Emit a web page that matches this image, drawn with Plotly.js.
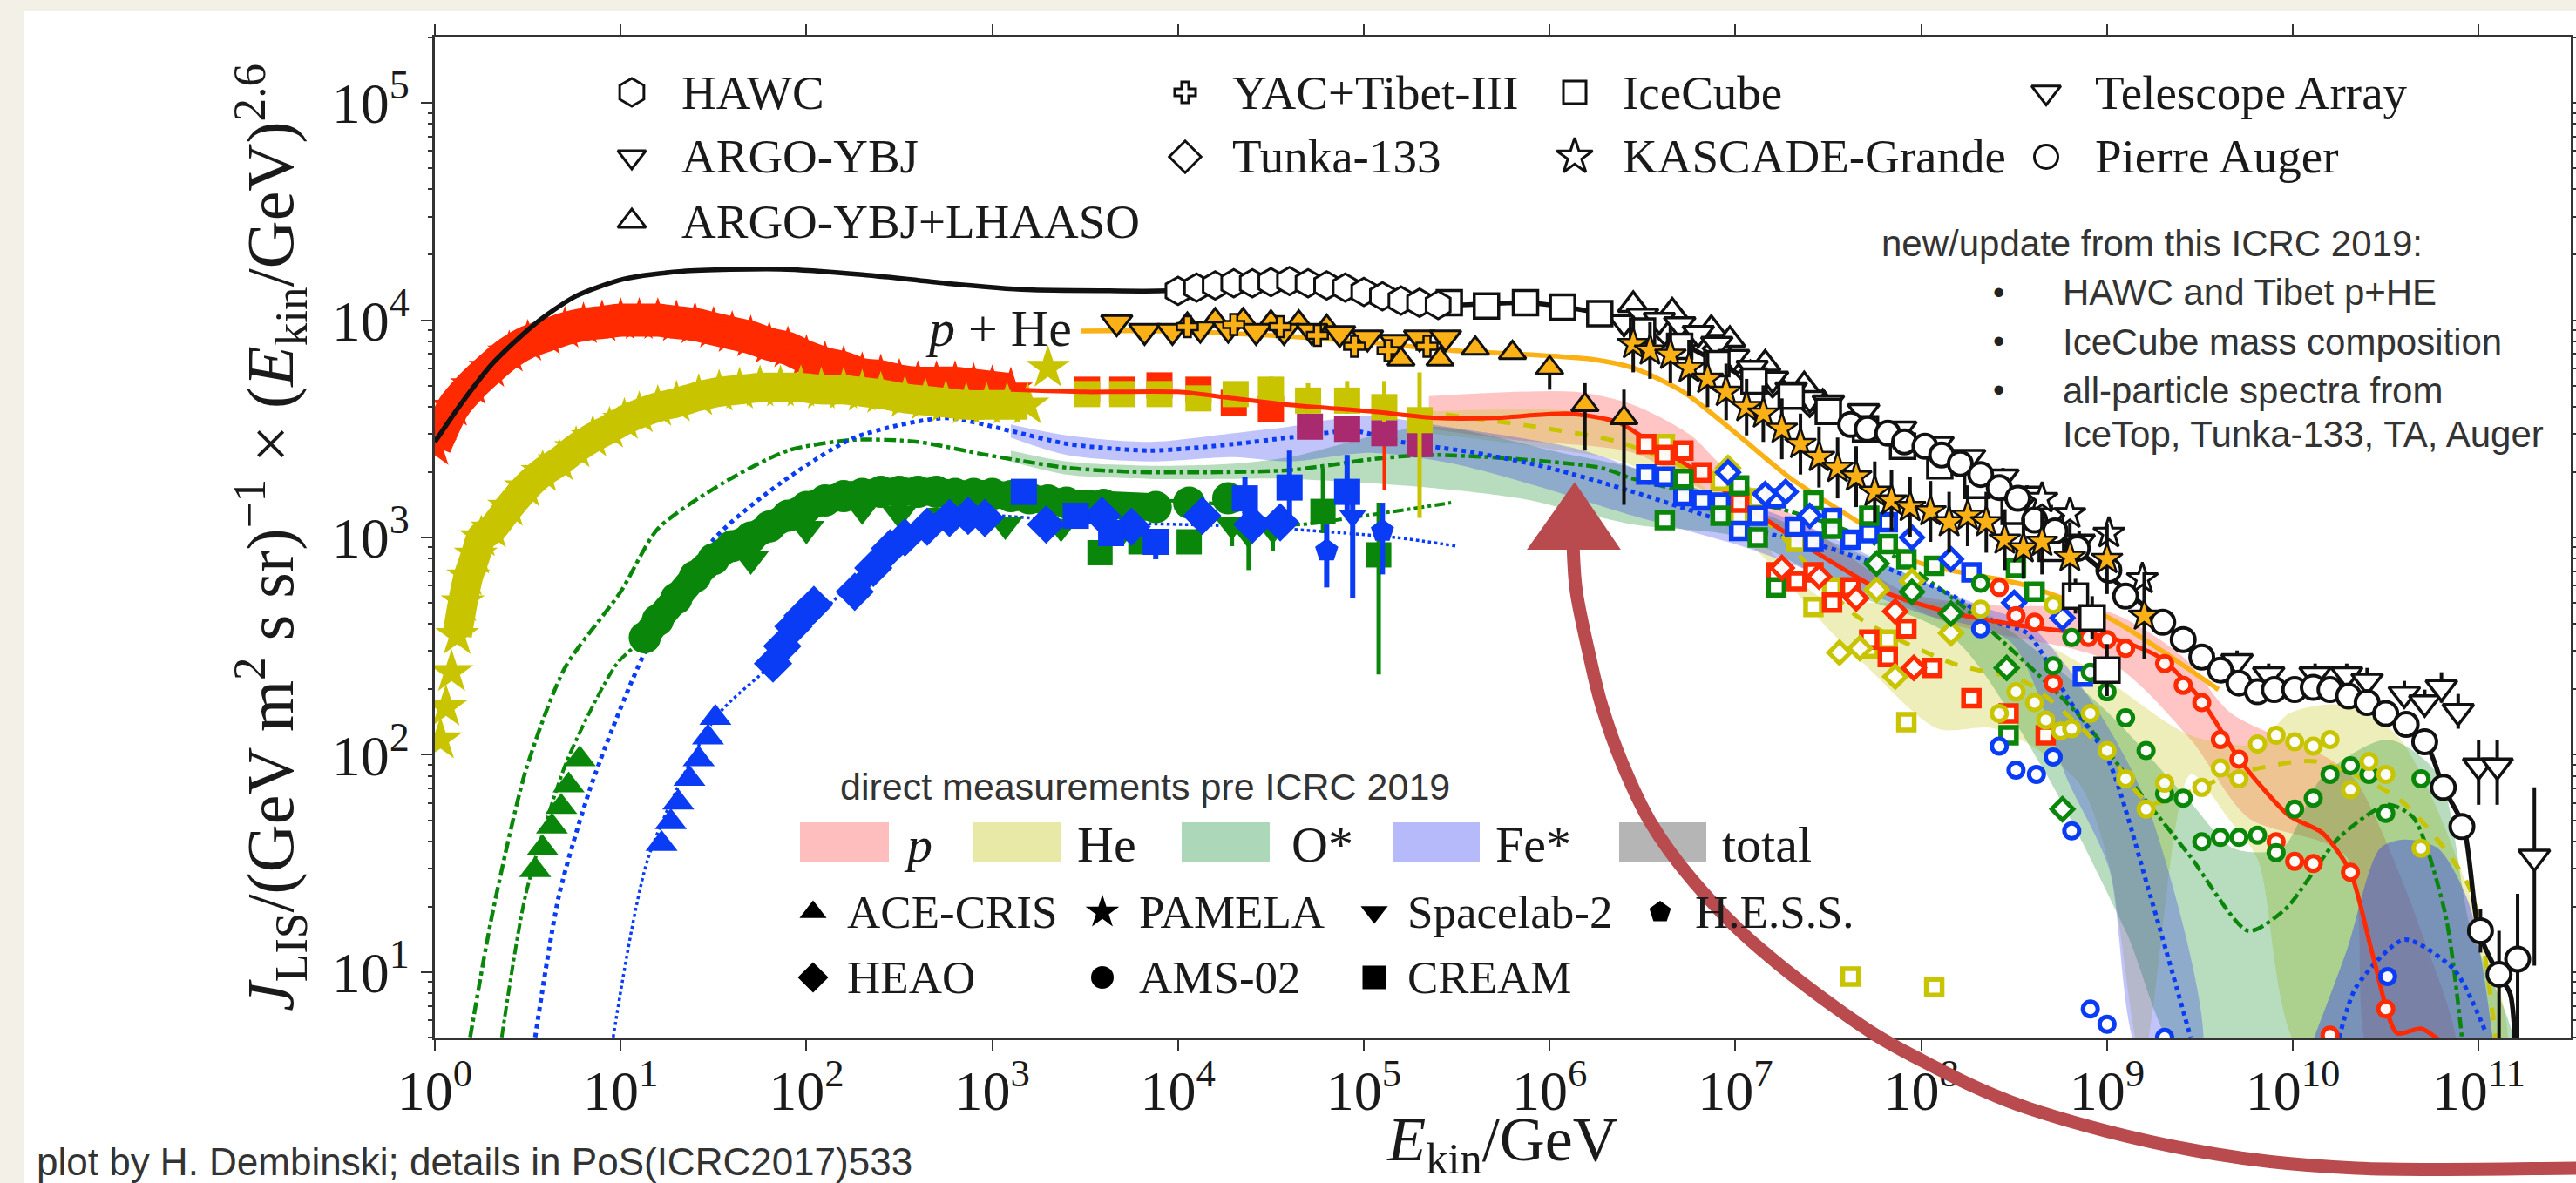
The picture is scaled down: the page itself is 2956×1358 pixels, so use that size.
<!DOCTYPE html>
<html><head><meta charset="utf-8">
<script src="https://cdn.plot.ly/plotly-3.0.1.min.js"></script>
<style>html,body{margin:0;padding:0;background:#f3f0e7;overflow:hidden}</style>
</head><body><div id="chart" style="width:2956px;height:1358px"></div>
<script>
// ---------- DATA (log10 E/GeV, log10 J) ----------
const xTickVals=[1,1e1,1e2,1e3,1e4,1e5,1e6,1e7,1e8,1e9,1e10,1e11];
const xTickText=['10<sup>0</sup>','10<sup>1</sup>','10<sup>2</sup>','10<sup>3</sup>','10<sup>4</sup>','10<sup>5</sup>','10<sup>6</sup>','10<sup>7</sup>','10<sup>8</sup>','10<sup>9</sup>','10<sup>10</sup>','10<sup>11</sup>'];
const yTickVals=[1e1,1e2,1e3,1e4,1e5];
const yTickText=['10<sup>1</sup>','10<sup>2</sup>','10<sup>3</sup>','10<sup>4</sup>','10<sup>5</sup>'];

// model curves
const totE=[0,.137,.31,.535,.757,1.02,1.33,1.86,2.3,2.75,3.19,3.63,3.94,4.6,5.04,5.48,5.88,6.28,6.67,7.07,7.47,7.87,8.31,8.7,9,9.3,9.6,9.81,10.29,10.71,10.81,10.92,11,11.1,11.17,11.2];
const totJ=[3.44,3.61,3.8,3.98,4.11,4.19,4.225,4.235,4.21,4.17,4.14,4.135,4.135,4.17,4.1,4.07,4.08,4.03,3.91,3.73,3.59,3.44,3.27,3.04,2.83,2.61,2.39,2.29,2.28,2.06,1.85,1.67,1.19,1,.9,.6];
const pHeE=[3.48,3.9,4.5,5.0,5.48,5.92,6.23,6.45,6.72,7.03,7.3,7.7,7.97,8.56,9.01,9.6];
const pHeJ=[3.95,3.95,3.93,3.9,3.86,3.84,3.82,3.78,3.67,3.46,3.27,3.05,2.89,2.78,2.63,2.3];
const pLineE=[3.1,3.5,4,4.3,4.6,5.04,5.39,5.7,6.1,6.37,6.54,6.8,7.1,7.4,7.8,8.13,8.57,9.01,9.28,9.5,9.72,9.98,10.16,10.31,10.43,10.56,10.69,10.8,10.9];
const pLineJ=[3.68,3.67,3.67,3.64,3.61,3.58,3.55,3.55,3.57,3.53,3.44,3.3,3.12,2.95,2.75,2.66,2.59,2.54,2.45,2.26,1.97,1.72,1.64,1.46,1.08,.72,.74,.68,.6];
const heLineE=[5.3,5.92,6.37,6.9,7.2,7.65,8.17,8.57,9.01,9.23,9.68,10.12,10.58,10.95,11.09];
const heLineJ=[3.58,3.51,3.44,3.25,3.05,2.64,2.42,2.33,2.0,1.78,1.91,1.97,1.79,1.39,.7];
const oLineE=[.19,.31,.49,.7,1,1.2,1.55,1.9,2.26,2.6,2.97,3.41,3.85,4.6,5.04,5.35,5.84,6.28,6.45,6.8,7.25,7.69,8.17,8.44,8.84,9.19,9.45,9.76,9.96,10.25,10.51,10.65,10.82,10.91];
const oLineJ=[.7,1.27,1.93,2.4,2.75,3.04,3.25,3.4,3.45,3.44,3.38,3.32,3.3,3.31,3.36,3.38,3.36,3.32,3.27,3.2,3.13,3.0,2.72,2.52,2.19,1.81,1.53,1.19,1.29,1.62,1.77,1.71,1.27,.7];
const o2LineE=[.36,.49,.71,.98,1.13,1.33,1.82,2.53,3.41,4.16,4.61,5,5.47];
const o2LineJ=[.7,1.36,1.97,2.42,2.54,2.75,3.06,3.21,3.17,3.16,3.06,3.1,3.16];
const feLineE=[.54,.67,.85,1.13,1.5,1.86,2.26,2.75,3.1,3.41,3.85,4.3,4.6,4.95,5.2,5.6,6,6.45,7.07,7.51,8.13,8.4,8.57,8.79,9.01,9.23,9.45];
const feLineJ=[.7,1.36,1.88,2.47,2.99,3.25,3.46,3.55,3.49,3.43,3.4,3.43,3.46,3.49,3.44,3.39,3.32,3.21,3.04,2.95,2.75,2.61,2.56,2.26,1.97,1.36,.7];
const fe2LineE=[10.25,10.34,10.6,10.87,11.04];
const fe2LineJ=[.7,.93,1.15,1.01,.72];
const fe3LineE=[.96,1.15,1.51,1.82,2.26,2.77,3.5,4.38,5.17,5.5];
const fe3LineJ=[.7,1.53,2.17,2.42,2.8,3.09,3.07,3.05,3.0,2.96];

// uncertainty bands: upper edge then lower edge, as x/y outlines
const pBandE=[5.35,6.14,6.45,6.76,6.94,7.4,7.91,8.35,9,9.41,9.67,10.2,10.34,10.69,10.87,10.43,10.29,9.76,9.45,9.01,8.13,7.7,7.11,6.8,6.45,5.8,5.35];
const pBandJ=[3.65,3.67,3.61,3.47,3.32,3.05,2.75,2.69,2.66,2.45,2.19,1.98,1.88,1.19,.6,.6,1.53,1.71,2.07,2.43,2.61,2.8,3.09,3.23,3.39,3.45,3.5];
const heBandE=[5.35,6.14,6.45,7,7.47,7.7,8.22,8.9,9.45,9.81,9.98,10.25,10.56,10.95,11.13,10.07,9.81,9.65,9.45,9.19,9.01,8.84,8.4,8.09,7.69,7.51,7.1,6.45,5.9,5.35];
const heBandJ=[3.58,3.58,3.5,3.1,2.72,2.7,2.69,2.4,2.09,2.05,2.19,2.23,2.09,1.36,.6,.6,1.52,1.71,1.91,.6,1.5,1.88,2.12,2.12,2.42,2.57,2.95,3.33,3.42,3.48];
const oBandE=[3.1,3.4,3.85,4.3,4.6,5.35,6.06,6.45,7.03,7.6,8.13,8.48,9.01,9.45,9.68,9.94,10.16,10.51,10.78,10.95,11.18,10.03,9.41,9.1,8.66,8.17,7.6,7.03,6.45,5.84,5.35,4.6,4.3,3.85,3.4,3.1];
const oBandJ=[3.4,3.35,3.33,3.34,3.37,3.51,3.39,3.32,3.15,2.95,2.75,2.57,2.19,1.78,1.57,1.57,1.9,2.07,1.91,1.22,.6,.6,.6,1.19,1.93,2.54,2.75,3.0,3.06,3.18,3.23,3.27,3.27,3.27,3.29,3.35];
const feBandE=[3.1,3.4,3.85,4.3,4.6,5,5.44,6.14,6.59,7.11,7.42,8,8.4,8.57,8.93,9.23,9.5,9.19,9.01,8.79,8.48,8,7.07,6.45,5.92,5.48,5.04,4.6,4.3,3.85,3.4,3.1];
const feBandJ=[3.52,3.47,3.44,3.48,3.51,3.56,3.51,3.41,3.28,3.14,3.04,2.8,2.66,2.61,2.23,1.74,.6,.6,1.48,1.88,2.52,2.65,2.95,3.1,3.24,3.34,3.39,3.35,3.37,3.35,3.38,3.46];
const fe2BandE=[10.07,10.29,10.47,10.6,10.78,10.95,11.09];
const fe2BandJ=[.6,1.1,1.57,1.61,1.57,1.31,.6];

// direct measurements
const pStarE=[0,.1,.2,.3,.4,.5,.6,.7,.8,.9,1,1.1,1.2,1.3,1.4,1.5,1.6,1.7,1.8,1.9,2,2.1,2.2,2.3,2.4,2.5,2.6,2.7,2.8,2.9,3,3.1];
const pStarJ=[3.42,3.6,3.7,3.78,3.85,3.9,3.93,3.96,3.98,3.99,4,4,4,3.99,3.98,3.96,3.94,3.92,3.89,3.87,3.83,3.8,3.78,3.75,3.74,3.72,3.71,3.71,3.71,3.7,3.69,3.68];
const pSqE=[3.51,3.7,3.9,4.11,4.3,4.5];
const pSqJ=[3.68,3.68,3.7,3.68,3.62,3.59];
const pSq2E=[4.71,4.91,5.11,5.3];
const pSq2J=[3.51,3.5,3.48,3.43];
const pSq2Hi=[.02,.02,.02,.02];
const pSq2Lo=[.03,.03,.26,.05];
const heStarE=[.03,.06,.09,.12,.15,.18,.22,.25,.31,.4,.49,.58,.67,.76,.85,.94,1.02,1.1,1.2,1.3,1.42,1.53,1.64,1.75,1.86,1.97,2.08,2.2,2.3,2.4,2.53,2.64,2.75,2.86,2.97,3.08,3.19];
const heStarJ=[2.07,2.22,2.38,2.55,2.7,2.82,2.92,3.0,3.04,3.14,3.23,3.3,3.35,3.41,3.46,3.5,3.54,3.57,3.6,3.62,3.65,3.67,3.68,3.69,3.69,3.69,3.68,3.68,3.67,3.66,3.64,3.63,3.62,3.61,3.61,3.61,3.61];
const heBodyE=[.12,.15,.18,.22,.25,.31,.4,.49,.58,.67,.76,.85,.94,1.02,1.1,1.2,1.3,1.42,1.53,1.64,1.75,1.86,1.97,2.08,2.2,2.3,2.4,2.53,2.64,2.75,2.86,2.97,3.08,3.19];
const heBodyJ=[2.55,2.7,2.82,2.92,3.0,3.04,3.14,3.23,3.3,3.35,3.41,3.46,3.5,3.54,3.57,3.6,3.62,3.65,3.67,3.68,3.69,3.69,3.69,3.68,3.68,3.67,3.66,3.64,3.63,3.62,3.61,3.61,3.61,3.61];
const heOutE=[3.3]; const heOutJ=[3.78];
const heSqE=[3.51,3.7,3.9,4.11,4.31,4.5,4.7,4.91,5.11,5.3];
const heSqJ=[3.66,3.66,3.66,3.64,3.66,3.68,3.63,3.63,3.6,3.54];
const heSqHi=[.03,.03,.03,.03,.03,.06,.08,.09,.12,.22];
const heSqLo=[.03,.03,.03,.03,.03,.04,.06,.06,.07,.45];
const oCircE=[1.13,1.2,1.3,1.4,1.5,1.6,1.7,1.8,1.9,2,2.1,2.2,2.3,2.4,2.5,2.6,2.7,2.8,2.9,3,3.1,3.2,3.3,3.4,3.6,3.88,4.06,4.27];
const oCircJ=[2.54,2.62,2.72,2.82,2.9,2.96,3,3.05,3.1,3.14,3.17,3.19,3.2,3.21,3.21,3.21,3.21,3.2,3.2,3.2,3.19,3.18,3.17,3.16,3.15,3.14,3.16,3.18];
const oBodyE=[1.13,1.2,1.3,1.4,1.5,1.6,1.7,1.8,1.9,2,2.1,2.2,2.3,2.4,2.5,2.6,2.7,2.8,2.9,3,3.1,3.2,3.3,3.4,3.6,3.85];
const oBodyJ=[2.54,2.62,2.72,2.82,2.9,2.96,3,3.05,3.1,3.14,3.17,3.19,3.2,3.21,3.21,3.21,3.21,3.2,3.2,3.2,3.19,3.18,3.17,3.16,3.15,3.14];
const oTriDownE=[1.7,2.0,2.3,2.5,2.75,3.07,3.37,3.7,4.29,4.38,4.51];
const oTriDownJ=[2.9,3.04,3.13,3.11,3.1,3.06,3.05,3.03,3.06,3.02,3.04];
const oTriHi=[.02,.02,.02,.02,.02,.02,.02,.02,.02,.02,.02];
const oTriLo=[.02,.02,.02,.02,.02,.03,.05,.05,.1,.17,.1];
const oSqE=[3.58,3.8,4.06,4.78,5.08];
const oSqJ=[2.93,2.98,2.98,3.12,2.92];
const oSqHi=[.04,.04,.04,.2,.24];
const oSqLo=[.04,.04,.04,.1,.55];
const oAceE=[.54,.58,.63,.68,.72,.78];
const oAceJ=[1.47,1.57,1.67,1.76,1.86,1.98];
const feAceE=[1.22,1.27,1.31,1.37,1.42,1.47,1.51];
const feAceJ=[1.59,1.69,1.78,1.89,1.98,2.08,2.17];
const feDiaE=[1.82,1.87,1.93,1.98,2.04,null,2.26,2.36,2.45,2.53,2.65,2.77,2.87,2.96,3.29,3.59,3.75,4.13,4.4,4.55];
const feDiaJ=[2.42,2.5,2.59,2.64,2.69,null,2.75,2.86,2.95,3.0,3.05,3.09,3.1,3.09,3.06,3.1,3.05,3.1,3.06,3.07];
const feBodyE=[1.82,1.87,1.93,1.98,2.04,null,2.26,2.36,2.45,2.53,2.65,2.77,2.87,2.96];
const feBodyJ=[2.42,2.5,2.59,2.64,2.69,null,2.75,2.86,2.95,3.0,3.05,3.09,3.1,3.09];
const feSqE=[3.17,3.45,3.64,3.88,4.36,4.6,4.91];
const feSqJ=[3.21,3.1,3.02,2.98,3.18,3.23,3.21];
const feSqHi=[.03,.03,.05,.05,.1,.17,.17];
const feSqLo=[.03,.03,.05,.08,.08,.14,.1];
const feTriE=[4.94]; const feTriJ=[3.1]; const feTriHi=[.1]; const feTriLo=[.38];
const fePentE=[4.8,5.1];
const fePentJ=[2.94,3.03];
const fePentHi=[.12,.13];
const fePentLo=[.17,.2];

// air-shower experiments, composition groups
const redSqE=[6.52,6.62,6.72,6.82,7.02,7.22,7.33,7.42,7.52,7.62,7.72,7.82,7.92,8.06,8.27,8.47,8.67];
const redSqJ=[3.43,3.38,3.4,3.3,3.16,2.84,2.8,2.84,2.7,2.77,2.53,2.45,2.58,2.4,2.26,2.19,2.09];
const yelSqE=[6.62,6.92,7.02,7.12,7.33,7.42,7.52,7.62,7.72,7.82,7.92,8.07];
const yelSqJ=[3.43,3.26,3.1,3.18,2.98,2.68,2.77,.98,2.49,2.53,2.15,.93];
const bluSqE=[6.52,6.62,6.72,6.82,6.92,7.02,7.12,7.22,7.32,7.42,7.52,7.62,7.72,7.82,8.27,8.87];
const bluSqJ=[3.29,3.28,3.19,3.17,3.16,3.03,3.1,3.18,3.05,2.98,3.09,2.99,3.02,3.07,2.84,2.36];
const grnSqE=[6.62,6.72,6.92,7.02,7.12,7.22,7.42,7.52,7.72,7.82,7.92,8.07,8.47,8.51,8.61];
const grnSqJ=[3.08,3.27,3.1,3.24,3.0,2.77,3.17,3.04,3.1,2.97,2.9,2.87,2.09,2.86,2.75];
const redDiaE=[7.25,7.45,7.65,7.86,7.96];
const redDiaJ=[2.86,2.82,2.72,2.66,2.4];
const yelDiaE=[6.96,7.56,7.67,7.76,7.86,7.95,8.16];
const yelDiaJ=[3.32,2.47,2.49,2.76,2.36,2.8,2.56];
const grnDiaE=[7.76,7.95,8.16,8.46,8.76];
const grnDiaJ=[2.88,2.75,2.65,2.4,1.75];
const bluDiaE=[6.96,7.16,7.27,7.4,7.95,8.16,8.5,8.76];
const bluDiaJ=[3.3,3.2,3.21,3.1,3.0,2.9,2.7,2.63];
const bluCircE=[8.32,8.42,8.51,8.62,8.71,8.81,8.91,9,9.31,10.51];
const bluCircJ=[2.58,2.04,1.93,1.91,1.99,1.65,.83,.76,.7,.98];
const redCircE=[8.42,8.51,8.61,8.71,8.9,9,9.1,9.31,9.41,9.51,9.61,9.71,9.91,10.01,10.11,10.2,10.31,10.5];
const redCircJ=[2.77,2.64,2.61,2.33,2.54,2.53,2.49,2.42,2.32,2.24,2.07,1.98,1.6,1.51,1.5,.71,1.46,.83];
const grnCircE=[8.32,8.71,8.81,8.91,9,9.1,9.21,9.31,9.41,9.51,9.61,9.71,9.81,9.91,10.01,10.11,10.2,10.31,10.41,10.5,10.69];
const grnCircJ=[2.79,2.41,2.54,2.38,2.29,2.17,2.02,1.82,1.8,1.6,1.62,1.62,1.63,1.55,1.75,1.8,1.91,1.95,1.91,1.73,1.89];
const yelCircE=[8.32,8.42,8.51,8.61,8.67,8.71,8.75,8.81,8.91,9,9.1,9.21,9.31,9.51,9.61,9.71,9.81,9.91,10.01,10.11,10.2,10.31,10.41,10.5,10.69];
const yelCircJ=[2.67,2.19,2.29,2.24,2.16,2.69,2.11,2.12,2.19,2.02,1.89,1.75,1.87,1.85,1.94,1.89,2.05,2.09,2.06,2.04,2.07,1.84,1.97,1.91,1.57];

// p+He measurements
const argoE=[3.67,3.82,3.97,4.12,4.27,4.42,4.57,4.72,4.87,5.02,5.17,5.3,5.44];
const argoJ=[3.99,3.95,3.95,3.96,3.96,3.95,3.95,3.95,3.94,3.92,3.9,3.92,3.92];
const argo2E=[4.05,4.2,4.35,4.5,4.65,4.8];
const argo2J=[3.98,4.0,4.0,3.99,3.99,3.97];
const yacE=[4.05,4.3,4.55,4.75,4.95,5.13,5.34];
const yacJ=[3.97,3.98,3.97,3.93,3.88,3.86,3.88];
const lhaasoE=[5.2,5.41,5.6,5.8,6,6.19,6.4];
const lhaasoJ=[3.82,3.82,3.87,3.85,3.78,3.61,3.55];
const lhaasoHi=[.02,.02,.02,.02,.02,.1,.13];
const lhaasoLo=[.02,.02,.03,.03,.1,.21,.4];

// all-particle
const hawcE=[4,4.1,4.2,4.3,4.4,4.5,4.6,4.7,4.8,4.9,5,5.1,5.2,5.3,5.4];
const hawcJ=[4.135,4.15,4.16,4.17,4.17,4.175,4.18,4.17,4.16,4.15,4.13,4.11,4.09,4.08,4.07];
const iceE=[5.46,5.66,5.87,6.07,6.27,6.5,6.7,6.9,7.1,7.3,7.5,7.7,7.9,8.1,8.3,8.5,8.7,8.83,8.92,9];
const iceJ=[4.08,4.065,4.08,4.06,4.03,3.95,3.88,3.8,3.72,3.65,3.58,3.5,3.42,3.33,3.24,3.12,2.95,2.73,2.63,2.39];
const iceErr=[.03,.03,.02,.02,.02,.02,.02,.02,.02,.02,.02,.03,.03,.03,.04,.04,.05,.08,.1,.12];
const kgE=[6.45,6.54,6.65,6.75,6.85,6.95,7.06,7.15,7.25,7.35,7.45,7.55,7.65,7.75,7.84,7.94,8.05,8.15,8.25,8.35,8.45,8.55,8.65,8.8,9,9.2];
const kgJ=[3.89,3.86,3.84,3.78,3.73,3.67,3.6,3.57,3.5,3.43,3.37,3.32,3.28,3.21,3.17,3.14,3.12,3.07,3.1,3.07,2.99,2.95,2.98,2.91,2.9,2.64];
const kgErr=[.13,.13,.13,.13,.13,.13,.13,.13,.14,.14,.14,.14,.14,.14,.14,.14,.14,.14,.14,.14,.14,.14,.15,.16,.16,.2];
const kgWhiteE=[8.65,8.8,9.01,9.19];
const kgWhiteJ=[3.18,3.11,3.02,2.81];
const tunkaE=[6.62,6.75,6.9,7.08,7.2,7.4];
const tunkaJ=[3.95,3.92,3.87,3.75,3.71,3.62];
const upE=[6.45,6.66,6.87,6.97,7.16,7.37,7.47];
const upJ=[4.07,4.04,3.96,3.91,3.8,3.7,3.62];
const taE=[6.4,6.5,6.59,6.7,6.8,6.9,6.99,7.09,7.2,7.3,7.4,7.5,7.69,7.89,8.09,8.26,8.44,8.57,8.7,8.85,9.7,9.87,10.12,10.29,10.4,10.6,10.71,10.8,10.89,11,11.1,11.3];
const taJ=[3.99,4.02,4.0,3.98,3.94,3.89,3.83,3.78,3.73,3.68,3.64,3.62,3.58,3.5,3.43,3.37,3.28,3.2,3.1,2.98,2.43,2.37,2.37,2.37,2.34,2.28,2.24,2.31,2.2,1.95,1.95,1.53];
const taHi=[.03,.03,.03,.03,.03,.03,.03,.03,.03,.03,.03,.03,.03,.03,.03,.03,.04,.04,.05,.05,.05,.05,.05,.05,.06,.06,.06,.07,.08,.12,.12,.32];
const taLo=[.03,.03,.03,.03,.03,.03,.03,.03,.03,.03,.03,.03,.03,.03,.03,.03,.04,.04,.05,.05,.05,.05,.05,.05,.06,.06,.06,.07,.08,.18,.18,.5];
const augerE=[7.62,7.71,7.82,7.91,8.02,8.11,8.21,8.32,8.42,8.52,8.61,8.72,8.84,9.01,9.1,9.3,9.41,9.51,9.61,9.71,9.81,9.9,10.01,10.11,10.2,10.3,10.4,10.5,10.61,10.71,10.81,10.91,11.01,11.11,11.21];
const augerJ=[3.52,3.5,3.48,3.44,3.42,3.38,3.34,3.29,3.23,3.18,3.08,3.03,2.95,2.85,2.73,2.61,2.53,2.45,2.39,2.33,2.29,2.3,2.3,2.31,2.3,2.27,2.24,2.19,2.14,2.06,1.85,1.67,1.19,.99,1.06];
const augerHi=[.04,.04,.04,.04,.04,.04,.04,.04,.04,.04,.04,.04,.04,.04,.04,.03,.03,.03,.03,.03,.03,.03,.03,.03,.03,.03,.03,.03,.03,.03,.03,.04,.1,.2,.3];
const augerLo=[.04,.04,.04,.04,.04,.04,.04,.04,.04,.04,.04,.04,.04,.04,.04,.03,.03,.03,.03,.03,.03,.03,.03,.03,.03,.03,.03,.03,.03,.03,.03,.04,.1,.3,.5];

// legend texts
const legendTop=[['HAWC',780,106],['ARGO-YBJ',780,180],['ARGO-YBJ+LHAASO',780,254],['YAC+Tibet-III',1412,106],['Tunka-133',1412,180],['IceCube',1860,106],['KASCADE-Grande',1860,180],['Telescope Array',2402,106],['Pierre Auger',2402,180]];
const legendDirect=[['ACE-CRIS',970,1047],['PAMELA',1305,1047],['Spacelab-2',1613,1047],['H.E.S.S.',1943,1047],['HEAO',970,1122],['AMS-02',1305,1122],['CREAM',1613,1122]];
const legendBands=[['<i>p</i>',1035,969],['He',1234,969],['O*',1480,969],['Fe*',1714,969],['total',1974,969]];
const newNotes=[['HAWC and Tibet p+HE',2365,336],['IceCube mass composition',2365,392],['all-particle spectra from',2365,448],['IceTop, Tunka-133, TA, Auger',2365,498]];
const bulletRows=[336,392,448];

// ---------- layout geometry: plot box in page pixels ----------
const L=499,R=2950,T=43,B=1191;
const px=X=>(X-L)/(R-L), py=Y=>(B-Y)/(B-T);
const pow10=a=>a.map(v=>v===null?null:Math.pow(10,v));
const RED='#ff2a00',YEL='#c8c400',GRN='#0a870a',BLU='#0a3cf5',ORG='#fbb116',BLK='#111';
const traces=[];
function band(E,J,color){traces.push({x:pow10(E),y:pow10(J),mode:'none',fill:'toself',fillcolor:color,line:{shape:'spline',smoothing:.8},hoverinfo:'skip',showlegend:false});}
function line(E,J,color,dash,w){traces.push({x:pow10(E),y:pow10(J),mode:'lines',line:{color,dash,width:w,shape:'spline',smoothing:.7},showlegend:false,hoverinfo:'skip'});}
function pts(E,J,symbol,size,color,lc,lw,hi,lo,ec,et){
  const t={x:pow10(E),y:pow10(J),mode:'markers',marker:{symbol,size,color,line:{color:lc||color,width:lw||0}},showlegend:false,hoverinfo:'skip'};
  if(hi){const h=hi,l=lo||hi;
    t.error_y={type:'data',symmetric:false,color:ec||lc||color,thickness:et||4,width:0,
      array:J.map((v,i)=>Math.pow(10,v+h[i])-Math.pow(10,v)),
      arrayminus:J.map((v,i)=>Math.pow(10,v)-Math.pow(10,v-l[i]))};}
  traces.push(t);
}
// bands
band(pBandE,pBandJ,'rgba(255,40,40,.27)');
band(heBandE,heBandJ,'rgba(200,200,30,.30)');
band(oBandE,oBandJ,'rgba(20,140,40,.30)');
band(feBandE,feBandJ,'rgba(50,60,240,.30)');
band(fe2BandE,fe2BandJ,'rgba(50,60,240,.42)');
// curves
line(oLineE,oLineJ,GRN,'dashdot',4.5);
line(o2LineE,o2LineJ,GRN,'dashdot',4);
line(feLineE,feLineJ,BLU,'dot',5);
line(fe2LineE,fe2LineJ,BLU,'dot',5);
line(fe3LineE,fe3LineJ,BLU,'dot',3.5);
line(heLineE,heLineJ,YEL,'dash',5);
line(pHeE,pHeJ,ORG,'solid',5.5);
// direct measurements
line(pStarE,pStarJ,RED,'solid',38);
pts(pStarE,pStarJ,'star',38,RED);
pts(pSqE,pSqJ,'square',30,RED);
pts(pSq2E,pSq2J,'square',30,'#a92a6e','#a92a6e',0,pSq2Hi,pSq2Lo,RED);
line(oBodyE,oBodyJ,GRN,'solid',32);
pts(oCircE,oCircJ,'circle',37,GRN);
pts(oTriDownE,oTriDownJ,'triangle-down',36,GRN,GRN,0,oTriHi,oTriLo,GRN,5);
pts(oSqE,oSqJ,'square',29,GRN,GRN,0,oSqHi,oSqLo,GRN,5);
pts(oAceE,oAceJ,'triangle-up',32,GRN);
line(heBodyE,heBodyJ,YEL,'solid',34);
pts(heStarE,heStarJ,'star',38,YEL);
pts(heOutE,heOutJ,'star',38,YEL);
pts(heSqE,heSqJ,'square',30,YEL,YEL,0,heSqHi,heSqLo,YEL,5);
line(pLineE,pLineJ,RED,'solid',5);
pts(feAceE,feAceJ,'triangle-up',32,BLU);
line(feBodyE,feBodyJ,BLU,'solid',22);
pts(feDiaE,feDiaJ,'diamond',34,BLU);
pts(feSqE,feSqJ,'square',30,BLU,BLU,0,feSqHi,feSqLo,BLU,6);
pts(feTriE,feTriJ,'triangle-down',28,BLU,BLU,0,feTriHi,feTriLo,BLU,6);
pts(fePentE,fePentJ,'pentagon',28,BLU,BLU,0,fePentHi,fePentLo,BLU,6);
// composition groups
const IN='rgba(255,255,255,.95)';
pts(yelSqE,yelSqJ,'square',18,IN,YEL,5.5);
pts(redSqE,redSqJ,'square',18,IN,RED,5.5);
pts(bluSqE,bluSqJ,'square',18,IN,BLU,5.5);
pts(grnSqE,grnSqJ,'square',18,IN,GRN,5.5);
pts(yelDiaE,yelDiaJ,'diamond',19,IN,YEL,5);
pts(redDiaE,redDiaJ,'diamond',19,IN,RED,5);
pts(grnDiaE,grnDiaJ,'diamond',19,IN,GRN,5);
pts(bluDiaE,bluDiaJ,'diamond',19,IN,BLU,5);
pts(bluCircE,bluCircJ,'circle',17,IN,BLU,5);
pts(redCircE,redCircJ,'circle',17,IN,RED,5);
pts(grnCircE,grnCircJ,'circle',17,IN,GRN,5);
pts(yelCircE,yelCircJ,'circle',17,IN,YEL,5);
// all-particle & p+He
line(totE,totJ,BLK,'solid',5.5);
pts(tunkaE,tunkaJ,'diamond',24,'#fff',BLK,3.5);
pts(upE,upJ,'triangle-up',30,'#fff',BLK,3.5);
pts(taE,taJ,'triangle-down',31,'#fff',BLK,3.5,taHi,taLo);
pts(kgWhiteE,kgWhiteJ,'star',27,'#fff',BLK,3);
pts(iceE,iceJ,'square',28,'#fff',BLK,3.5,iceErr,iceErr);
pts(hawcE,hawcJ,'hexagon',32,'#fff',BLK,3);
pts(augerE,augerJ,'circle',27,'#fff',BLK,4,augerHi,augerLo);
pts(argo2E,argo2J,'triangle-up',27,ORG,BLK,3);
pts(argoE,argoJ,'triangle-down',31,ORG,BLK,3);
pts(yacE,yacJ,'cross',20,ORG,BLK,2.5);
pts(lhaasoE,lhaasoJ,'triangle-up',27,ORG,BLK,3,lhaasoHi,lhaasoLo);
pts(kgE,kgJ,'star',27,ORG,BLK,2.5,kgErr,kgErr);

// legend keys on an overlay axis measured in page pixels
function key(X,Y,symbol,size,filled){traces.push({x:[X],y:[Y],xaxis:'x2',yaxis:'y2',mode:'markers',hoverinfo:'skip',showlegend:false,
  marker:{symbol,size,color:filled?'#000':'rgba(255,255,255,0)',line:{color:'#111',width:filled?0:3}}});}
key(725,106,'hexagon',32);key(725,180,'triangle-down',28);key(725,254,'triangle-up',28);
key(1360,106,'cross',20);key(1360,180,'diamond',28);
key(1807,106,'square',26);key(1807,180,'star',31);
key(2348,106,'triangle-down',29);key(2348,180,'circle',27);
key(933,1047,'triangle-up',27,1);key(1265,1047,'star',29,1);key(1577,1047,'triangle-down',27,1);key(1905,1047,'pentagon',26,1);
key(933,1122,'diamond',27,1);key(1265,1122,'circle',26,1);key(1577,1122,'square',27,1);
// minor ticks live on their own label-free log axis
traces.push({x:[null],y:[null],yaxis:'y3',mode:'markers',hoverinfo:'skip',showlegend:false});

// annotations
const SERIF='"Liberation Serif","Times New Roman",serif', SANS='"Liberation Sans",Arial,sans-serif';
const ann=[];
function lab(text,X,Y,size,family,color){ann.push({text,x:px(X),y:py(Y),xref:'paper',yref:'paper',xanchor:'left',yanchor:'middle',showarrow:false,align:'left',
  font:{family,size,color:color||'#1a1a1a'}});}
legendTop.forEach(r=>lab(r[0],r[1],r[2],55,SERIF));
legendDirect.forEach(r=>lab(r[0],r[1],r[2],53,SERIF));
legendBands.forEach(r=>lab(r[0],r[1],r[2],58,SERIF));
lab('direct measurements pre ICRC 2019',962,903,43,SANS,'#333');
lab('new/update from this ICRC 2019:',2157,279,42,SANS,'#333');
bulletRows.forEach(y=>lab('•',2285,y,38,SANS,'#222'));
newNotes.forEach(r=>lab(r[0],r[1],r[2],42,SANS,'#333'));
lab('<i>p</i> + He',1060,377,60,SERIF);
lab('plot by H. Dembinski; details in PoS(ICRC2017)533',40,1333,44,SANS,'#333');

// arrow: hand-drawn curve from the lower right edge to the bands
const arrowPts=[[2956,1341],[2704,1341],[2515,1320],[2327,1272],[2195,1212],[2111,1160],[2007,1078],[1941,1009],[1894,944],[1861,875],[1838,810],[1824,753],[1809,680],[1805,625]];
function catmull(p){let d='M'+px(p[0][0])+','+py(p[0][1]);
  for(let i=0;i<p.length-1;i++){const a=p[Math.max(i-1,0)],b=p[i],c=p[i+1],e=p[Math.min(i+2,p.length-1)];
    const c1=[b[0]+(c[0]-a[0])/6,b[1]+(c[1]-a[1])/6],c2=[c[0]-(e[0]-b[0])/6,c[1]-(e[1]-b[1])/6];
    d+=' C'+px(c1[0])+','+py(c1[1])+' '+px(c2[0])+','+py(c2[1])+' '+px(c[0])+','+py(c[1]);}
  return d;}
const WINE='#b94a4e';
const rect=(x0,x1,y0,y1,fill,layer)=>({type:'rect',xref:'paper',yref:'paper',x0:px(x0),x1:px(x1),y0:py(y0),y1:py(y1),fillcolor:fill,line:{width:0},layer:layer||'above'});
const shapes=[
  rect(28,2956,13,1358,'#ffffff','below'),
  rect(918,1020,944,990,'rgba(255,100,100,.42)'),
  rect(1116,1218,944,990,'rgba(205,205,60,.45)'),
  rect(1356,1457,944,990,'rgba(40,150,70,.38)'),
  rect(1598,1698,944,990,'rgba(80,90,245,.42)'),
  rect(1858,1958,944,990,'rgba(120,120,120,.55)'),
  {type:'path',xref:'paper',yref:'paper',path:catmull(arrowPts),line:{color:WINE,width:15},layer:'above'},
  {type:'path',xref:'paper',yref:'paper',path:`M${px(1807)},${py(555)} L${px(1858)},${py(630)} L${px(1754)},${py(630)} Z`,fillcolor:WINE,line:{color:WINE,width:2},layer:'above'}
];

const minorY=[];[0,1,2,3,4,5].forEach(d=>[2,3,4,5,6,7,8,9].forEach(m=>minorY.push(m*Math.pow(10,d))));
const AX='#333';
const layout={
  width:2956,height:1358,autosize:false,
  paper_bgcolor:'#f3f0e7',plot_bgcolor:'#ffffff',
  margin:{l:L,r:2956-R,t:T,b:1358-B,pad:0},
  showlegend:false,
  font:{family:SERIF,color:'#1a1a1a'},
  xaxis:{type:'log',range:[0,11.496],tickmode:'array',tickvals:xTickVals,ticktext:xTickText,ticks:'outside',ticklen:13,tickwidth:2,tickcolor:AX,ticklabelstandoff:-10,
    showline:true,linecolor:AX,linewidth:3,mirror:'allticks',showgrid:false,zeroline:false,tickangle:0,tickfont:{family:SERIF,size:64,color:'#1a1a1a'},
    title:{text:'<i>E</i><sub>kin</sub>/GeV',font:{family:SERIF,size:72,color:'#1a1a1a'},standoff:14},automargin:false},
  yaxis:{type:'log',range:[Math.log10(5),Math.log10(2e5)],tickmode:'array',tickvals:yTickVals,ticktext:yTickText,ticks:'outside',ticklen:13,tickwidth:2,tickcolor:AX,
    showline:true,linecolor:AX,linewidth:3,mirror:'allticks',showgrid:false,zeroline:false,tickfont:{family:SERIF,size:66,color:'#1a1a1a'},
    title:{text:'<i>J</i><sub>LIS</sub>/(GeV m<sup>2</sup> s sr)<sup>−1</sup> × (<i>E</i><sub>kin</sub>/GeV)<sup>2.6</sup>',font:{family:SERIF,size:76,color:'#1a1a1a'},standoff:20},automargin:false},
  yaxis3:{type:'log',overlaying:'y',anchor:'x',side:'left',range:[Math.log10(5),Math.log10(2e5)],tickmode:'array',tickvals:minorY,ticks:'outside',ticklen:7,tickwidth:2,tickcolor:AX,
    showticklabels:false,showgrid:false,zeroline:false,showline:false,mirror:'ticks',fixedrange:true},
  xaxis2:{overlaying:'x',anchor:'y2',range:[L,R],visible:false,fixedrange:true},
  yaxis2:{overlaying:'y',anchor:'x2',range:[B,T],visible:false,fixedrange:true},
  annotations:ann,shapes
};
Plotly.newPlot('chart',traces,layout,{displayModeBar:false,staticPlot:true});
</script></body></html>
